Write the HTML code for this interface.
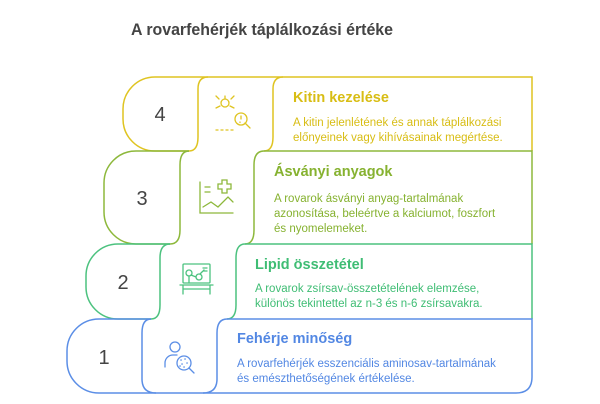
<!DOCTYPE html>
<html><head><meta charset="utf-8"><style>
html,body{margin:0;padding:0;background:#fff;}
svg{display:block;font-family:"Liberation Sans",sans-serif;}
</style></head><body>
<svg width="600" height="404" viewBox="0 0 600 404" xmlns="http://www.w3.org/2000/svg">
<text x="262" y="35" text-anchor="middle" font-size="17" font-weight="bold" fill="#444" textLength="262" lengthAdjust="spacingAndGlyphs">A rovarfehérjék táplálkozási értéke</text>
<g fill="none" stroke-width="1.5">
<!-- Row 4 yellow -->
<g stroke="#dfc421">
<path d="M155,77 H532 V151"/>
<path d="M155,77 A32,32 0 0 0 123,109 V119 A32,32 0 0 0 155,151 H189"/>
<path d="M208,77 Q198,77 198,89 V137 Q198,151 189,151"/>
<path d="M283,77 Q273,77 273,89 V137 Q273,151 264,151"/>
</g>
<!-- Row 3 olive -->
<g stroke="#8db83b">
<path d="M189,151 H136 A32,32 0 0 0 104,183 V212 A32,32 0 0 0 136,244 H170"/>
<path d="M189,151 Q180,151 180,165 V230 Q180,244 170,244"/>
<path d="M264,151 H532 V244"/>
<path d="M264,151 Q254,151 254,165 V230 Q254,244 245,244"/>
</g>
<!-- Row 2 green -->
<g stroke="#4cc27f">
<path d="M170,244 H118 A32,32 0 0 0 86,276 V287 A32,32 0 0 0 118,319 H151"/>
<path d="M170,244 Q160,244 160,258 V305 Q160,319 151,319"/>
<path d="M245,244 H532 V319"/>
<path d="M245,244 Q236,244 236,258 V305 Q236,319 227,319"/>
</g>
<!-- Row 1 blue -->
<g stroke="#5b8ee6">
<path d="M151,319 H99 A32,32 0 0 0 67,351 V361 A32,32 0 0 0 99,393 H516 Q532,393 532,377 V319 H227"/>
<path d="M151,319 Q142,319 142,333 V379 Q142,393 156,393"/>
<path d="M227,319 Q217,319 217,333 V379 Q217,393 203,393"/>
</g>
</g>
<g font-size="20" fill="#444" text-anchor="middle">
<text x="160" y="121">4</text>
<text x="142" y="205">3</text>
<text x="123" y="289">2</text>
<text x="104" y="364">1</text>
</g>
<!-- icons -->
<g fill="none" stroke-width="1.3" stroke-linecap="round">
<g stroke="#dfc421">
<circle cx="225" cy="103" r="4"/><path d="M219,99 l-3,-3 M231,99 l3,-3 M220,106 l-4,2 M230,106 l4,2 M225,99 v-3"/>
<circle cx="241" cy="119" r="6"/><path d="M245,123 l5,5 M241,116 v3 M240,122 v0.5"/>
<path d="M216,130 h18" stroke-dasharray="2 3"/>
</g>
<g stroke="#8db83b">
<path d="M200,182 V213 H233"/><path d="M205,187 h5 M205,192 h5"/>
<path d="M218,184 h4 v-4 h5 v4 h4 v5 h-4 v4 h-5 v-4 h-4 z"/>
<path d="M203,207 l8,-5 l7,5 l10,-10 l5,5"/>
</g>
<g stroke="#4cc27f">
<rect x="183" y="264" width="27" height="19" rx="1"/>
<circle cx="189" cy="273" r="3"/><circle cx="199" cy="277" r="3"/><path d="M191,275 l5,2 M200,274 l4,-4 M203,268 h4 M203,271 h4 M189,276 v7"/>
<path d="M180,285 h33 M183,285 v9 M210,285 v9 M183,289 h27"/>
</g>
<g stroke="#5b8ee6">
<circle cx="175" cy="347" r="5"/><path d="M165,367 v-4 a8,8 0 0 1 8,-8 h4"/>
<circle cx="184" cy="363" r="7"/><path d="M189,368 l5,5"/>
<g stroke-width="1.6"><path d="M181,360 h0.1 M185,359 h0.1 M182,364 h0.1 M187,363 h0.1 M184,367 h0.1 M180,366 h0.1"/></g>
</g>
</g>
<!-- text -->
<g font-weight="bold" font-size="14.5">
<text x="293" y="102" fill="#d8bd14">Kitin kezelése</text>
<text x="274" y="176" fill="#86b230">Ásványi anyagok</text>
<text x="255" y="269" fill="#3fbd74">Lipid összetétel</text>
<text x="237" y="343" fill="#5287e3">Fehérje minőség</text>
</g>
<g font-size="11.5">
<g fill="#d8bd14"><text x="293" y="126">A kitin jelenlétének és annak táplálkozási</text><text x="293" y="141">előnyeinek vagy kihívásainak megértése.</text></g>
<g fill="#86b230"><text x="274" y="202">A rovarok ásványi anyag-tartalmának</text><text x="274" y="217">azonosítása, beleértve a kalciumot, foszfort</text><text x="274" y="232">és nyomelemeket.</text></g>
<g fill="#3fbd74"><text x="255" y="292">A rovarok zsírsav-összetételének elemzése,</text><text x="255" y="307">különös tekintettel az n-3 és n-6 zsírsavakra.</text></g>
<g fill="#5287e3"><text x="237" y="367">A rovarfehérjék esszenciális aminosav-tartalmának</text><text x="237" y="382">és emészthetőségének értékelése.</text></g>
</g>
</svg>
</body></html>
